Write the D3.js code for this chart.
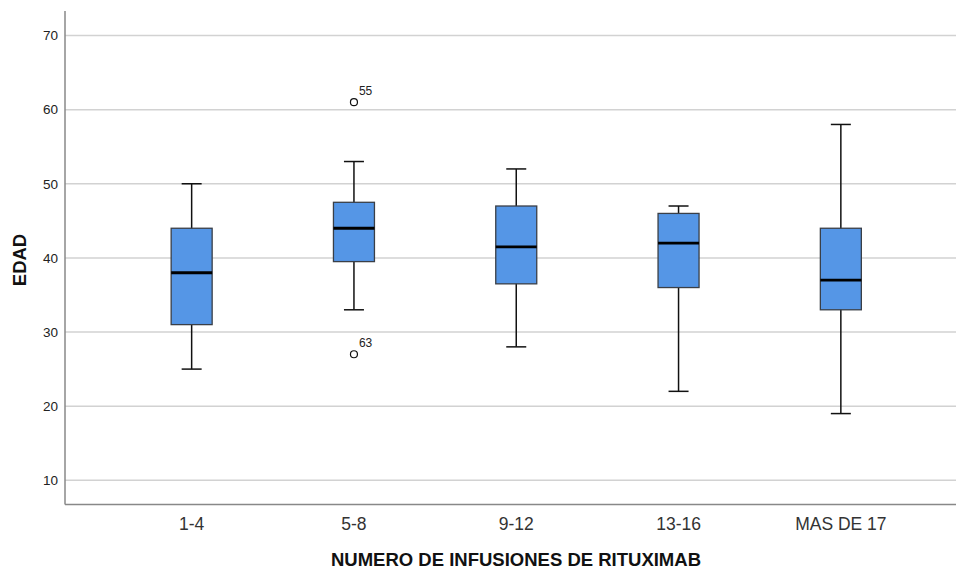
<!DOCTYPE html>
<html>
<head>
<meta charset="utf-8">
<script src="https://cdn.jsdelivr.net/npm/d3@7"></script>
<style>
  body { margin: 0; background: #fff; font-family: Arial, "Liberation Sans", sans-serif; }
</style>
</head>
<body>
<div class="plot"></div>
<script>
/* data */
const groups = ["1-4", "5-8", "9-12", "13-16", "MAS DE 17"];
const whiskLow = [25, 33, 28, 22, 19];
const q1 = [31, 39.5, 36.5, 36, 33];
const median = [38, 44, 41.5, 42, 37];
const q3 = [44, 47.5, 47, 46, 44];
const whiskHigh = [50, 53, 52, 47, 58];
const outliers = [
  {group: "5-8", value: 61, label: "55"},
  {group: "5-8", value: 27, label: "63"}
];
const yTicks = [10, 20, 30, 40, 50, 60, 70];

const data = groups.map((g, i) => ({
  group: g, lo: whiskLow[i], q1: q1[i], med: median[i], q3: q3[i], hi: whiskHigh[i]
}));

/* svg */
const width = 956, height = 569;
const svg = d3.select(".plot").append("svg")
  .attr("width", width)
  .attr("height", height);

const axisX = 65, axisBottom = 504.5, axisTop = 11;
const font = "Arial, 'Liberation Sans', sans-serif";

/* scales */
const yScale = d3.scaleLinear()
  .domain([10, 70])
  .range([480.3, 35.5]);

const xScale = d3.scaleBand()
  .domain(groups)
  .range([110.5, 922]);

/* grid lines */
svg.append("g")
  .selectAll("line")
  .data(yTicks)
  .join("line")
    .attr("x1", axisX)
    .attr("x2", width)
    .attr("y1", d => yScale(d))
    .attr("y2", d => yScale(d))
    .attr("stroke", "#d2d2d2")
    .attr("stroke-width", 1.5);

/* y axis */
const yAxis = d3.axisLeft(yScale).tickValues(yTicks).tickSize(0).tickPadding(7);
const yGroup = svg.append("g")
  .attr("transform", `translate(${axisX},0)`)
  .call(yAxis);
yGroup.select(".domain").remove();
yGroup.selectAll("text")
  .attr("font-family", font)
  .attr("font-size", 13.5)
  .attr("fill", "#222");

/* x axis */
const xAxis = d3.axisBottom(xScale).tickSize(0);
const xGroup = svg.append("g")
  .attr("transform", `translate(0,${axisBottom})`)
  .call(xAxis);
xGroup.select(".domain").remove();
xGroup.selectAll("text")
  .attr("y", 25.5)
  .attr("dy", null)
  .attr("font-family", font)
  .attr("font-size", 17.5)
  .attr("fill", "#333");

/* axis lines */
svg.append("line")
  .attr("x1", axisX).attr("x2", axisX)
  .attr("y1", axisTop).attr("y2", axisBottom)
  .attr("stroke", "#888").attr("stroke-width", 1.5);
svg.append("line")
  .attr("x1", axisX).attr("x2", width)
  .attr("y1", axisBottom).attr("y2", axisBottom)
  .attr("stroke", "#888").attr("stroke-width", 1.5);

/* axis titles */
svg.append("text")
  .attr("transform", `translate(26,260) rotate(-90)`)
  .attr("text-anchor", "middle")
  .attr("font-family", font)
  .attr("font-weight", "bold")
  .attr("font-size", 18.5)
  .attr("fill", "#111")
  .text("EDAD");

svg.append("text")
  .attr("x", 516)
  .attr("y", 566)
  .attr("text-anchor", "middle")
  .attr("font-family", font)
  .attr("font-weight", "bold")
  .attr("font-size", 18.5)
  .attr("fill", "#111")
  .text("NUMERO DE INFUSIONES DE RITUXIMAB");

/* boxes */
const cx = d => xScale(d.group) + xScale.bandwidth() / 2;
const boxW = 41, capW = 20;

const boxes = svg.append("g")
  .selectAll("g")
  .data(data)
  .join("g");

// whisker lines
boxes.append("line")
  .attr("x1", cx).attr("x2", cx)
  .attr("y1", d => yScale(d.hi)).attr("y2", d => yScale(d.lo))
  .attr("stroke", "#111").attr("stroke-width", 1.5);

// caps
boxes.selectAll(".cap")
  .data(d => [d.hi, d.lo].map(v => ({x: cx(d), v})))
  .join("line")
    .attr("class", "cap")
    .attr("x1", d => d.x - capW / 2).attr("x2", d => d.x + capW / 2)
    .attr("y1", d => yScale(d.v)).attr("y2", d => yScale(d.v))
    .attr("stroke", "#111").attr("stroke-width", 1.5);

// box
boxes.append("rect")
  .attr("x", d => cx(d) - boxW / 2)
  .attr("y", d => yScale(d.q3))
  .attr("width", boxW)
  .attr("height", d => yScale(d.q1) - yScale(d.q3))
  .attr("fill", "#5596e6")
  .attr("stroke", "#3a3f47")
  .attr("stroke-width", 1.3);

// median
boxes.append("line")
  .attr("x1", d => cx(d) - boxW / 2).attr("x2", d => cx(d) + boxW / 2)
  .attr("y1", d => yScale(d.med)).attr("y2", d => yScale(d.med))
  .attr("stroke", "#000").attr("stroke-width", 2.8);

/* outliers */
const outX = d => xScale(d.group) + xScale.bandwidth() / 2;
svg.append("g")
  .selectAll("circle")
  .data(outliers)
  .join("circle")
    .attr("cx", outX)
    .attr("cy", d => yScale(d.value))
    .attr("r", 3.5)
    .attr("fill", "none")
    .attr("stroke", "#111")
    .attr("stroke-width", 1.2);

svg.append("g")
  .selectAll("text")
  .data(outliers)
  .join("text")
    .attr("x", d => outX(d) + 5)
    .attr("y", d => yScale(d.value) - 7)
    .attr("font-family", font)
    .attr("font-size", 12)
    .attr("fill", "#222")
    .text(d => d.label);
</script>
</body>
</html>
